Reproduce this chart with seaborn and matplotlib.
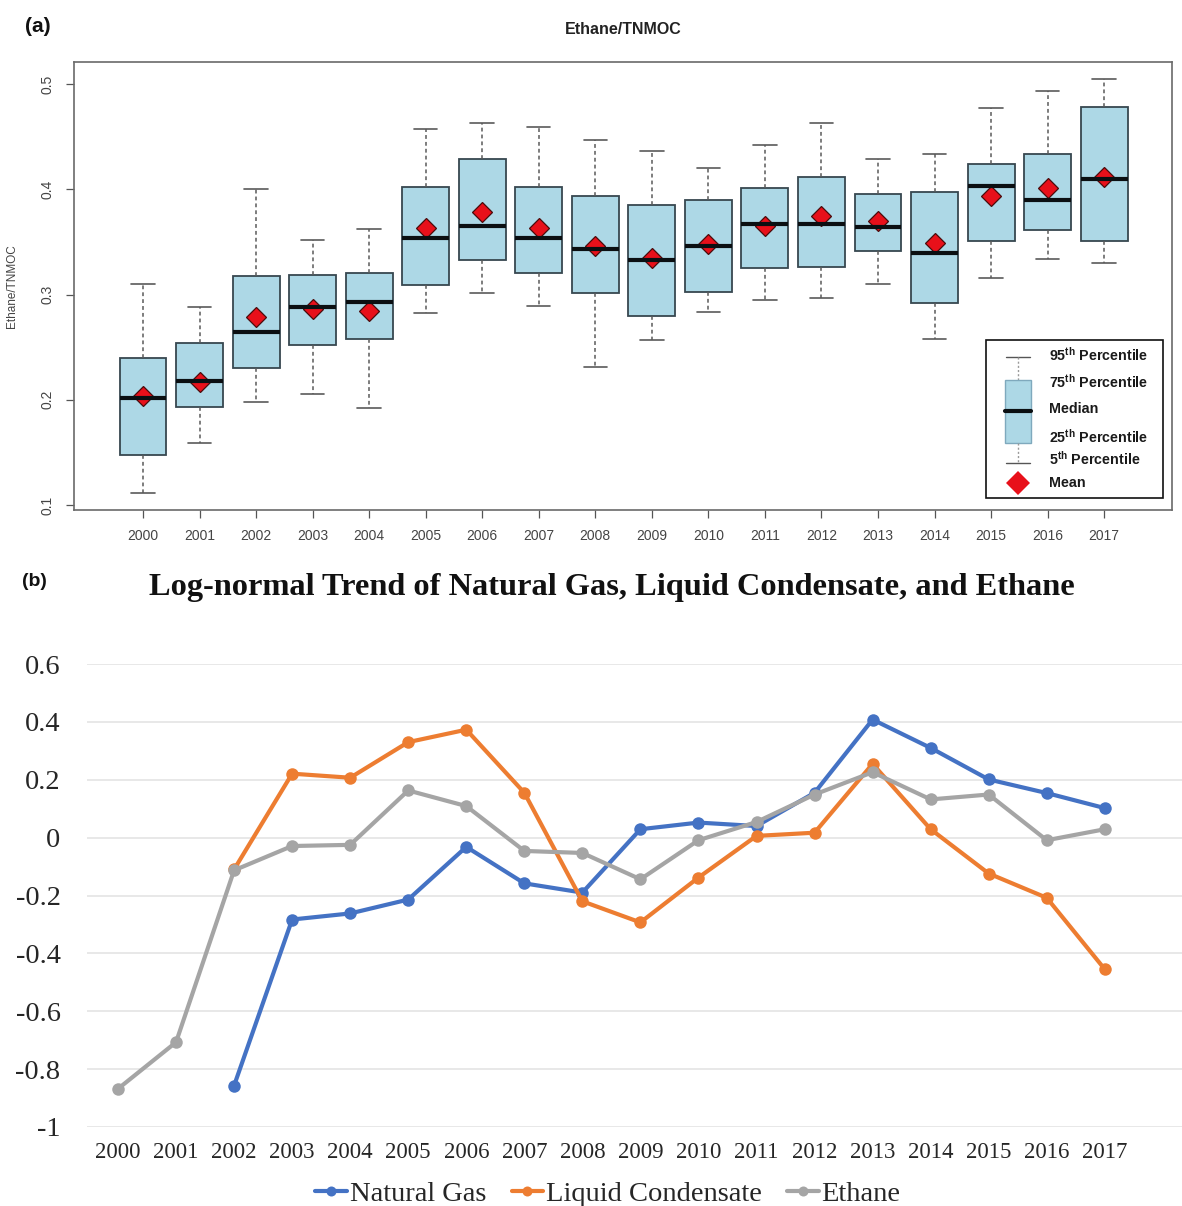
import numpy as np
import pandas as pd
import matplotlib
matplotlib.use("Agg")
import matplotlib.pyplot as plt
from matplotlib.patches import Rectangle
from matplotlib.lines import Line2D
import seaborn as sns

# ---------------- data: Ethane/TNMOC distribution by year ----------------
years = [str(y) for y in range(2000, 2018)]
p05 = [0.111, 0.159, 0.198, 0.205, 0.192, 0.282, 0.301, 0.289, 0.231,
       0.257, 0.283, 0.295, 0.297, 0.310, 0.258, 0.316, 0.334, 0.330]
q1 = [0.147, 0.193, 0.230, 0.252, 0.258, 0.309, 0.333, 0.320, 0.301,
      0.280, 0.302, 0.325, 0.326, 0.341, 0.292, 0.351, 0.361, 0.351]
median = [0.202, 0.218, 0.264, 0.288, 0.293, 0.354, 0.365, 0.354, 0.343,
          0.333, 0.346, 0.367, 0.367, 0.364, 0.339, 0.403, 0.390, 0.410]
q3 = [0.240, 0.254, 0.318, 0.319, 0.320, 0.402, 0.429, 0.402, 0.394,
      0.385, 0.390, 0.401, 0.412, 0.396, 0.397, 0.424, 0.434, 0.478]
p95 = [0.310, 0.288, 0.400, 0.352, 0.362, 0.457, 0.463, 0.459, 0.447,
       0.436, 0.420, 0.442, 0.463, 0.429, 0.434, 0.477, 0.493, 0.505]
mean = [0.204, 0.217, 0.279, 0.286, 0.284, 0.363, 0.378, 0.363, 0.346,
        0.335, 0.348, 0.365, 0.375, 0.370, 0.349, 0.394, 0.401, 0.412]

# ---------------- data: log-normal trends ----------------
trend_years = list(range(2000, 2018))
series_names = ["Natural Gas", "Liquid Condensate", "Ethane"]
natural_gas = [np.nan, np.nan, -0.857, -0.283, -0.262, -0.214, -0.032, -0.158, -0.190,
               0.029, 0.052, 0.040, 0.155, 0.408, 0.310, 0.201, 0.154, 0.102]
liquid_condensate = [np.nan, np.nan, -0.110, 0.221, 0.207, 0.330, 0.373, 0.155, -0.220,
                     -0.293, -0.138, 0.006, 0.017, 0.255, 0.029, -0.124, -0.208, -0.455]
ethane = [-0.868, -0.707, -0.113, -0.029, -0.025, 0.163, 0.109, -0.046, -0.053,
          -0.144, -0.009, 0.054, 0.149, 0.226, 0.132, 0.149, -0.009, 0.029]
series_colors = ["#4472C4", "#ED7D31", "#A5A5A5"]

sns.set_theme(style="white")
plt.rcParams["font.family"] = ["Liberation Sans", "DejaVu Sans"]
plt.rcParams["mathtext.fontset"] = "custom"
plt.rcParams["mathtext.rm"] = "Liberation Sans"
plt.rcParams["mathtext.bf"] = "Liberation Sans:bold"

W, H = 1182, 1206
fig = plt.figure(figsize=(W / 100, H / 100), dpi=100)
fig.patch.set_facecolor("white")

# =============== panel (a): box plots ===============
ax1 = fig.add_axes([74 / W, 1 - 510 / H, (1172 - 74) / W, (510 - 62) / H])

# five summary values per year -> whiskers at min/max span the 5th..95th percentiles
box_df = pd.DataFrame({
    "year": np.repeat(years, 5),
    "value": np.column_stack([p05, q1, median, q3, p95]).ravel(),
})
sns.boxplot(
    data=box_df, x="year", y="value", order=years, ax=ax1,
    whis=(0, 100), width=0.83, showfliers=False,
    boxprops=dict(facecolor="#ADD8E6", edgecolor="#37474F", linewidth=1.3),
    medianprops=dict(color="#0B0F12", linewidth=3),
    whiskerprops=dict(color="#5A5A5A", linewidth=1.1, linestyle=(0, (2.5, 2))),
    capprops=dict(color="#5A5A5A", linewidth=1.2),
)
mean_df = pd.DataFrame({"year": years, "mean": mean})
sns.pointplot(
    data=mean_df, x="year", y="mean", order=years, ax=ax1,
    linestyle="none", marker="D", color="#E8101A", errorbar=None,
    markersize=10, markeredgecolor="#4A0B0B", markeredgewidth=0.9,
)

ax1.set_xlim(-1.22, 18.2)
ax1.set_ylim(0.0952, 0.521)
ax1.set_yticks([0.1, 0.2, 0.3, 0.4, 0.5])
ax1.set_yticklabels(["0.1", "0.2", "0.3", "0.4", "0.5"], rotation=90, va="center")
ax1.set_xlabel("")
ax1.set_ylabel("Ethane/TNMOC", fontsize=8.5, color="#444444")
ax1.yaxis.set_label_coords(-0.051, 0.5)
ax1.tick_params(axis="both", direction="out", length=6, width=0.9, colors="#555555",
                labelsize=10, labelcolor="#444444", pad=8, left=True, bottom=True)
for sp in ax1.spines.values():
    sp.set_color("#6A6A6A")
    sp.set_linewidth(1.2)
ax1.set_title("Ethane/TNMOC", fontsize=11.5, fontweight="bold", color="#222222", pad=0, y=1.0)
ax1.title.set_position((0.5, 1 + (62 - 29) / 448))
ax1.title.set_va("center")

# legend key for the box plot elements
tA = ax1.transAxes
ax1.add_patch(Rectangle((0.8306, 0.0268), 0.9918 - 0.8306, 0.3795 - 0.0268, transform=tA,
                        facecolor="white", edgecolor="#111111", linewidth=1.2, zorder=6))
gx, cw, bw = 0.8597, 0.0109, 0.0118
ax1.add_line(Line2D([gx - cw, gx + cw], [0.3422, 0.3422], transform=tA, color="#555555", lw=1, zorder=7))
ax1.add_line(Line2D([gx, gx], [0.3422, 0.2902], transform=tA, color="#9A9A9A", lw=1,
                    ls=(0, (1.5, 1.5)), zorder=7))
ax1.add_patch(Rectangle((gx - bw, 0.1489), 2 * bw, 0.2902 - 0.1489, transform=tA,
                        facecolor="#ADD8E6", edgecolor="#7FA9BD", lw=1, zorder=7))
ax1.add_line(Line2D([gx - bw, gx + bw], [0.2210, 0.2210], transform=tA, color="#0B0F12", lw=3, zorder=8))
ax1.add_line(Line2D([gx, gx], [0.1489, 0.1042], transform=tA, color="#9A9A9A", lw=1,
                    ls=(0, (1.5, 1.5)), zorder=7))
ax1.add_line(Line2D([gx - cw, gx + cw], [0.1042, 0.1042], transform=tA, color="#555555", lw=1, zorder=7))
ax1.add_line(Line2D([gx], [0.0609], transform=tA, marker="D", markersize=12, color="#E8101A",
                    markeredgewidth=0, zorder=8))
key_labels = [r"95$^{\bf th}$ Percentile", r"75$^{\bf th}$ Percentile", "Median",
              r"25$^{\bf th}$ Percentile", r"5$^{\bf th}$ Percentile", "Mean"]
key_y = [0.346, 0.2864, 0.2248, 0.1636, 0.1154, 0.0596]
for lab, yy in zip(key_labels, key_y):
    ax1.text(0.888, yy, lab, transform=tA, fontsize=10.3, fontweight="bold", color="#1A1A1A",
             va="center", ha="left", zorder=9)

fig.text(25 / W, 1 - 26 / H, "(a)", fontsize=15, fontweight="bold", color="#111111",
         ha="left", va="center")

# =============== panel (b): trend lines ===============
ax2 = fig.add_axes([87 / W, 1 - 1127 / H, (W - 87) / W, (1127 - 664) / H])
trend_df = pd.DataFrame({
    "year": trend_years * 3,
    "value": natural_gas + liquid_condensate + ethane,
    "series": np.repeat(series_names, len(trend_years)),
})
sns.lineplot(
    data=trend_df.dropna(), x="year", y="value", hue="series", hue_order=series_names,
    palette=series_colors, marker="o", markersize=9, markeredgewidth=0, linewidth=3,
    estimator=None, ax=ax2,
)
ax2.set_xlim(1999.466, 2018.33)
ax2.set_ylim(-1, 0.6)
ax2.set_yticks(np.arange(-1, 0.61, 0.2))
ax2.set_yticklabels(["-1", "-0.8", "-0.6", "-0.4", "-0.2", "0", "0.2", "0.4", "0.6"])
ax2.set_xticks(trend_years)
ax2.set_xticklabels([str(y) for y in trend_years])
serif = ["Liberation Serif", "DejaVu Serif"]
for lab in ax2.get_xticklabels() + ax2.get_yticklabels():
    lab.set_family(serif)
ax2.tick_params(axis="y", length=0, labelsize=20.5, labelcolor="#262626", pad=19)
ax2.tick_params(axis="x", length=0, labelsize=16.5, labelcolor="#262626", pad=11)
ax2.grid(axis="y", color="#E4E4E4", linewidth=1.2)
ax2.grid(axis="x", visible=False)
ax2.set_axisbelow(True)
for sp in ax2.spines.values():
    sp.set_visible(False)
ax2.set_xlabel("")
ax2.set_ylabel("")

handles, labels = ax2.get_legend_handles_labels()
ax2.legend(handles, labels, loc="center", bbox_to_anchor=(608 / W, 1 - 1194 / H),
           bbox_transform=fig.transFigure, ncol=3, frameon=False,
           prop={"family": serif, "size": 20.5}, handlelength=1.1, handletextpad=0.1,
           columnspacing=0.9, borderaxespad=0, markerscale=0.8)

fig.text(611.5 / W, 1 - 587 / H, "Log-normal Trend of Natural Gas, Liquid Condensate, and Ethane",
         fontsize=23.3, fontweight="bold", family=serif, color="#111111", ha="center", va="center")
fig.text(22 / W, 1 - 582 / H, "(b)", fontsize=14, fontweight="bold", color="#111111",
         ha="left", va="center")

fig.savefig("out.png", dpi=100, facecolor="white")
